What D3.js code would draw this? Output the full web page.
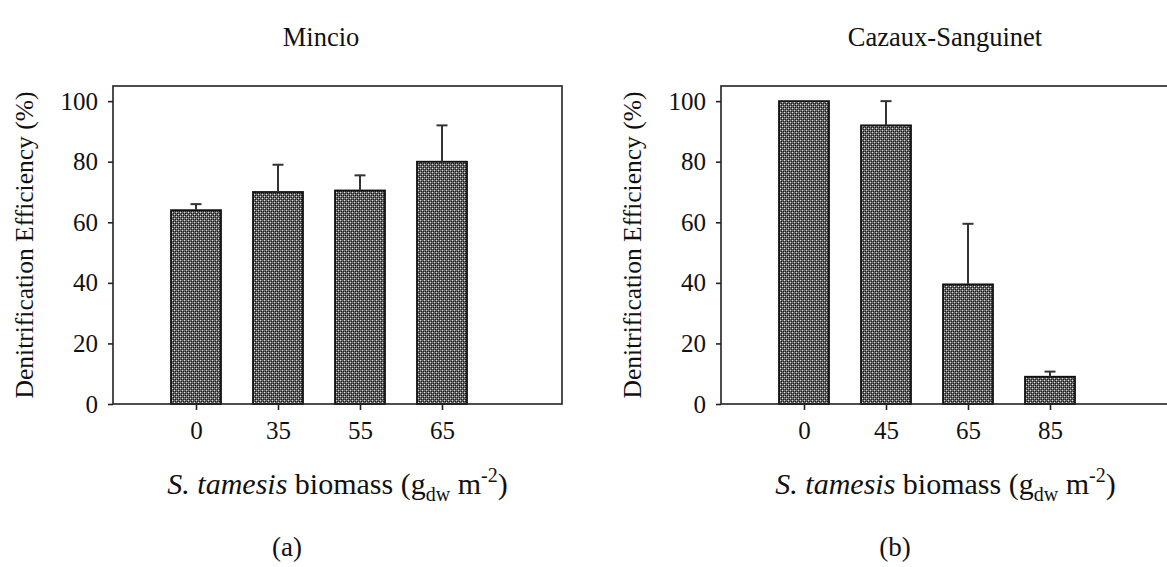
<!DOCTYPE html>
<html>
<head>
<meta charset="utf-8">
<script src="https://cdn.jsdelivr.net/npm/d3@7"></script>
<style>
    body { margin: 0; background: #fff; }
    svg { display: block; font-family: "Liberation Serif", "Times New Roman", serif; }
</style>
</head>
<body>
<svg id="chart" width="1167" height="567"></svg>
<script>
// values
const mincioCats = ["0", "35", "55", "65"];
const mincioValues = [64, 70, 70.5, 80];
const mincioErrors = [2, 9, 5, 12];

const cazauxCats = ["0", "45", "65", "85"];
const cazauxValues = [100, 92, 39.5, 9];
const cazauxErrors = [0, 8, 20, 1.7];

const yTicks = [0, 20, 40, 60, 80, 100];
const titles = ["Mincio", "Cazaux-Sanguinet"];
const panelTags = ["(a)", "(b)"];

const svg = d3.select("#chart");

// dotted grey fill like the original bars
const defs = svg.append("defs");
const pat = defs.append("pattern")
    .attr("id", "dots")
    .attr("patternUnits", "userSpaceOnUse")
    .attr("width", 4).attr("height", 4);
pat.append("rect").attr("width", 4).attr("height", 4).attr("fill", "#666");
[[0, 0], [2, 2]].forEach(p => pat.append("rect").attr("x", p[0]).attr("y", p[1]).attr("width", 1).attr("height", 1).attr("fill", "#ddd"));
[[1, 1], [3, 3], [3, 1], [1, 3]].forEach(p => pat.append("rect").attr("x", p[0]).attr("y", p[1]).attr("width", 1).attr("height", 1).attr("fill", "#1a1a1a"));

const frameW = 449, frameH = 318, plotTop = 86;
const barW = 50;

function drawPanel(left, cats, values, errors, title, tag, titleX) {
    const g = svg.append("g");
    const bottom = plotTop + frameH;

    const y = d3.scaleLinear().domain([0, 105]).range([bottom, plotTop]);
    const x = d3.scalePoint().domain(cats).range([left + 83, left + 329]);

    // bars
    g.selectAll(".bar").data(values).enter().append("rect")
        .attr("x", (d, i) => x(cats[i]) - barW / 2)
        .attr("y", d => y(d))
        .attr("width", barW)
        .attr("height", d => y(0) - y(d))
        .attr("fill", "url(#dots)")
        .attr("stroke", "#111")
        .attr("stroke-width", 1.8);

    // error bars (upper only)
    const eb = g.selectAll(".err").data(values.map((v, i) => ({v: v, e: errors[i], c: cats[i]})).filter(d => d.e > 0))
        .enter().append("g").attr("stroke", "#333").attr("stroke-width", 2);
    eb.append("line")
        .attr("x1", d => x(d.c)).attr("x2", d => x(d.c))
        .attr("y1", d => y(d.v)).attr("y2", d => y(d.v + d.e));
    eb.append("line")
        .attr("x1", d => x(d.c) - 5.5).attr("x2", d => x(d.c) + 5.5)
        .attr("y1", d => y(d.v + d.e)).attr("y2", d => y(d.v + d.e));

    // frame
    g.append("rect")
        .attr("x", left).attr("y", plotTop)
        .attr("width", frameW).attr("height", frameH)
        .attr("fill", "none").attr("stroke", "#222").attr("stroke-width", 1.6);

    // axes
    const yAxis = g.append("g")
        .attr("transform", `translate(${left},0)`)
        .call(d3.axisLeft(y).tickValues(yTicks).tickSize(5).tickPadding(10));
    const xAxis = g.append("g")
        .attr("transform", `translate(0,${bottom})`)
        .call(d3.axisBottom(x).tickSize(6).tickPadding(11));
    [yAxis, xAxis].forEach(a => {
        a.select(".domain").remove();
        a.selectAll("line").attr("stroke", "#222").attr("stroke-width", 1.6);
        a.selectAll("text").attr("font-size", 25).attr("fill", "#111")
            .attr("font-family", "Liberation Serif, serif");
    });

    // y label
    g.append("text")
        .attr("transform", `translate(${left - 89},${plotTop + frameH / 2}) rotate(-90)`)
        .attr("text-anchor", "middle")
        .attr("dominant-baseline", "central")
        .attr("font-size", 25.5)
        .attr("fill", "#111")
        .text("Denitrification Efficiency (%)");

    // x label
    const xl = g.append("text")
        .attr("x", left + frameW / 2).attr("y", 494)
        .attr("text-anchor", "middle")
        .attr("font-size", 30)
        .attr("fill", "#111");
    xl.append("tspan").attr("font-style", "italic").text("S. tamesis");
    xl.append("tspan").text(" biomass (g");
    xl.append("tspan").attr("font-size", 20).attr("dy", 7).text("dw");
    xl.append("tspan").attr("dy", -7).text(" m");
    xl.append("tspan").attr("font-size", 20).attr("dy", -12).text("-2");
    xl.append("tspan").attr("dy", 12).text(")");

    // title and panel tag
    g.append("text")
        .attr("x", titleX).attr("y", 46)
        .attr("text-anchor", "middle")
        .attr("font-size", 26.5).attr("fill", "#111")
        .text(title);
    g.append("text")
        .attr("x", left + 174).attr("y", 556)
        .attr("text-anchor", "middle")
        .attr("font-size", 27).attr("fill", "#111")
        .text(tag);
}

drawPanel(113, mincioCats, mincioValues, mincioErrors, titles[0], panelTags[0], 321);
drawPanel(721, cazauxCats, cazauxValues, cazauxErrors, titles[1], panelTags[1], 945);
</script>
</body>
</html>
